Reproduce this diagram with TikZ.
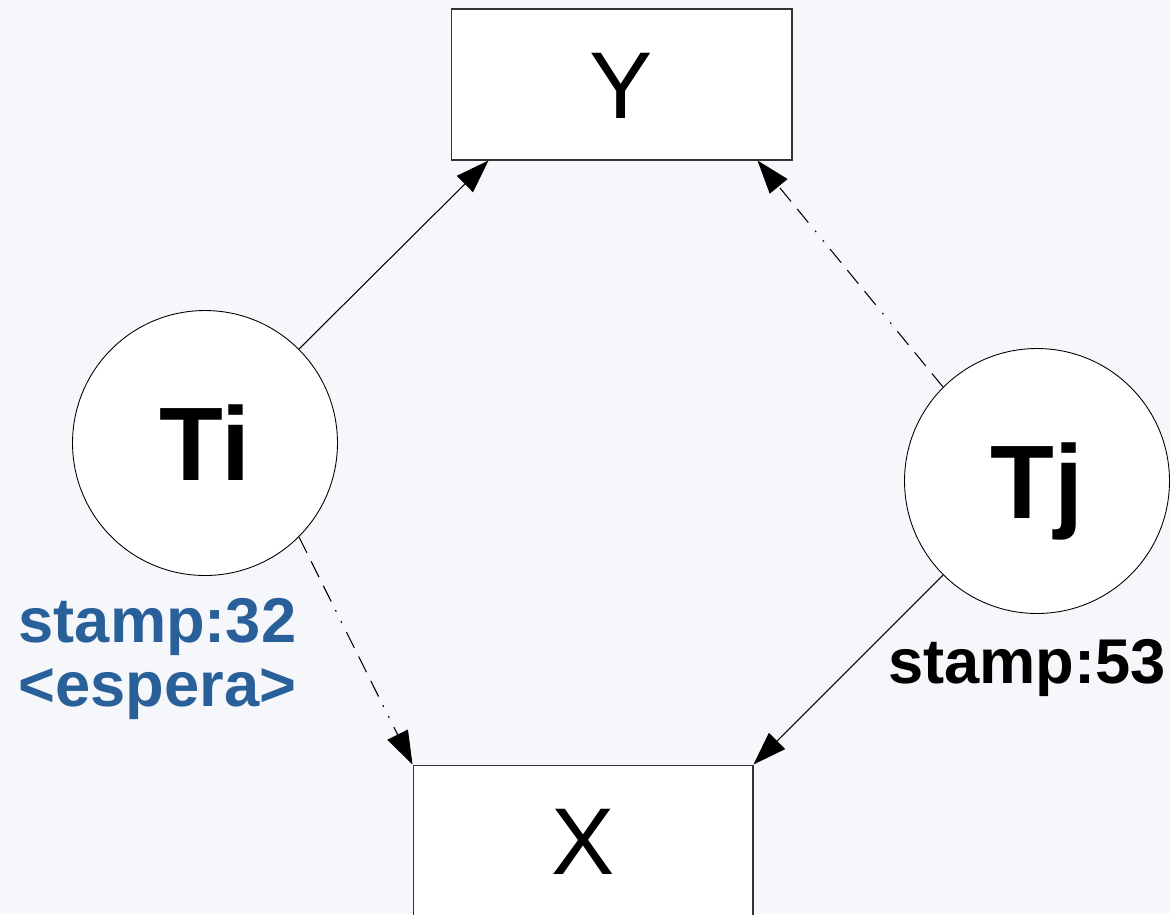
\documentclass[tikz,border=0pt]{standalone}
\usepackage{fontspec}
\setmainfont{Liberation Sans}
\definecolor{paper}{RGB}{245,247,250}
\definecolor{waitblue}{RGB}{42,96,153}
\usetikzlibrary{arrows.meta,calc}

\begin{document}
\begin{tikzpicture}[x=0.02cm, y=-0.02cm,
    res/.style={draw=black!80, fill=white, line width=0.6pt, minimum width=6.82cm, minimum height=3.02cm,
      inner sep=0pt, text height=38.7pt, text depth=0pt, font=\fontsize{54}{54}\selectfont},
    proc/.style={draw, circle, fill=white, line width=0.5pt, minimum size=5.3cm, inner sep=0pt,
      text height=42.6pt, text depth=0pt, font=\fontsize{59.5}{59.5}\selectfont\bfseries},
    link/.style={line width=0.6pt, -{Triangle[length=19pt, width=13pt]}},
    wait/.style={dash pattern=on 10pt off 5.5pt on 10pt off 5.5pt on 10pt off 5.5pt on 1pt off 6pt on 1pt off 6pt},
    stamp/.style={inner sep=0pt, font=\fontsize{36}{36.3}\selectfont\bfseries}]
  \clip (0,0) rectangle (1170,914);
  \fill[paper] (0,0) rectangle (1170,914);

  % resources
  \node[res] (y) at (621.5,84.5) {Y};
  \node[res, minimum width=6.8cm] (x) at (583,840.5) {X};

  % transactions
  \node[proc] (ti) at (205,443) {Ti};
  \node[proc] (tj) at (1037,481) {Tj};

  % held locks and waits
  \draw[link] (ti.45) -- ($(y.south west)+(38,0)$);
  \draw[link, wait] (tj.135) -- ($(y.south east)+(-35,0)$);
  \draw[link, wait] (ti.-45) -- (x.north west);
  \draw[link] (tj.225) -- (x.north east);

  % timestamps
  \node[stamp, text=waitblue, align=center, anchor=north] (tsi) at (157.5,598) {stamp:32\\<espera>};
  \node[stamp, anchor=base] (tsj) at (1027,683) {stamp:53};
\end{tikzpicture}
\end{document}
